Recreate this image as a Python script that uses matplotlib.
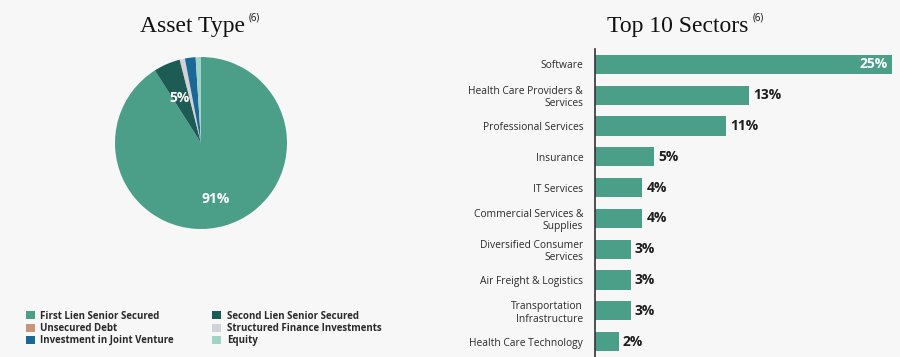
import matplotlib
matplotlib.use("Agg")
import matplotlib.pyplot as plt
from matplotlib.patches import Patch

# ---- data ----
asset_types = ["First Lien Senior Secured", "Second Lien Senior Secured", "Unsecured Debt",
               "Structured Finance Investments", "Investment in Joint Venture", "Equity"]
asset_values = [91.0, 5.0, 0.1, 0.9, 2.0, 1.0]
asset_colors = ["#4b9e88", "#1d5c55", "#c8957a", "#cfd2db", "#1b6796", "#a1d4c6"]

sectors = ["Software", "Health Care Providers &\nServices", "Professional Services", "Insurance",
           "IT Services", "Commercial Services &\nSupplies", "Diversified Consumer\nServices",
           "Air Freight & Logistics", "Transportation\nInfrastructure", "Health Care Technology"]
sector_values = [25.0, 13.0, 11.0, 5.0, 4.0, 4.0, 3.0, 3.0, 3.0, 2.0]
sector_labels = ["25%", "13%", "11%", "5%", "4%", "4%", "3%", "3%", "3%", "2%"]

BG = "#f7f7f7"
BAR = "#4b9e88"
TXT = "#1e1e1e"

fig = plt.figure(figsize=(9, 3.57), dpi=100, facecolor=BG)

# ---- pie ----
axp = fig.add_axes([115/900, 1-229/357, 172/900, 172/357])
axp.set_facecolor(BG)

def fmt(p):
    return f"{p:.0f}%" if p >= 4 else ""

wedges, _, autotexts = axp.pie(asset_values, colors=asset_colors, startangle=90, counterclock=False,
                               autopct=fmt, pctdistance=0.62,
                               wedgeprops=dict(edgecolor="none"),
                               textprops=dict(color="white", fontweight="bold", fontsize=10,
                                              family="Open Sans"))
for t in autotexts:
    x, y = t.get_position()
    t.set_position((x, y - 0.05))
axp.set_xlim(-1, 1)
axp.set_ylim(-1, 1)
axp.set_aspect("equal")

fig.text(140/900, 1-32/357, "Asset Type", family="Liberation Serif", fontsize=17, color="#111",
         ha="left", va="baseline")
fig.text(249/900, 1-21/357, "(6)", family="Open Sans", fontsize=7, color="#111", ha="left", va="baseline")

order = [0, 2, 4, 1, 3, 5]
handles = [Patch(facecolor=asset_colors[i], edgecolor="none") for i in order]
labels = [asset_types[i] for i in order]
leg = fig.legend(handles, labels, loc="upper left", bbox_to_anchor=(17/900, 1-302/357), ncol=2,
                 frameon=False, handlelength=0.9, handleheight=0.9, handletextpad=0.6,
                 columnspacing=3.95, labelspacing=0.12,
                 prop=dict(family="Open Sans", weight="bold", size=7))
for t in leg.get_texts():
    t.set_color("#2a2a2a")

# ---- bars ----
axb = fig.add_axes([595/900, 0, (893-595)/900, 1-49/357])
axb.set_facecolor(BG)
ypos = list(range(len(sectors)))
axb.barh(ypos, sector_values, height=0.62, color=BAR, edgecolor="none")
axb.set_ylim(len(sectors) - 0.5, -0.5)
axb.set_xlim(0, 25.1)
axb.set_yticks(ypos)
axb.set_yticklabels(sectors, family="Open Sans", fontsize=7.4, color="#2a2a2a", linespacing=1.15)
axb.tick_params(axis="y", length=0, pad=8.5)
axb.set_xticks([])
for s in ["top", "right", "bottom"]:
    axb.spines[s].set_visible(False)
axb.spines["left"].set_color("#333333")
axb.spines["left"].set_linewidth(1.2)

for i, (v, lab) in enumerate(zip(sector_values, sector_labels)):
    if i == 0:
        axb.annotate(lab, xy=(v, i), xytext=(-3, 0), textcoords="offset points", ha="right",
                     va="center", color="white", fontweight="bold", fontsize=10, family="Open Sans")
    else:
        axb.annotate(lab, xy=(v, i), xytext=(3, 0), textcoords="offset points", ha="left",
                     va="center", color=TXT, fontweight="bold", fontsize=10, family="Open Sans")

fig.text(607/900, 1-32/357, "Top 10 Sectors", family="Liberation Serif", fontsize=17, color="#111",
         ha="left", va="baseline")
fig.text(753/900, 1-21/357, "(6)", family="Open Sans", fontsize=7, color="#111", ha="left", va="baseline")

fig.savefig("out.png", dpi=100, facecolor=BG)
